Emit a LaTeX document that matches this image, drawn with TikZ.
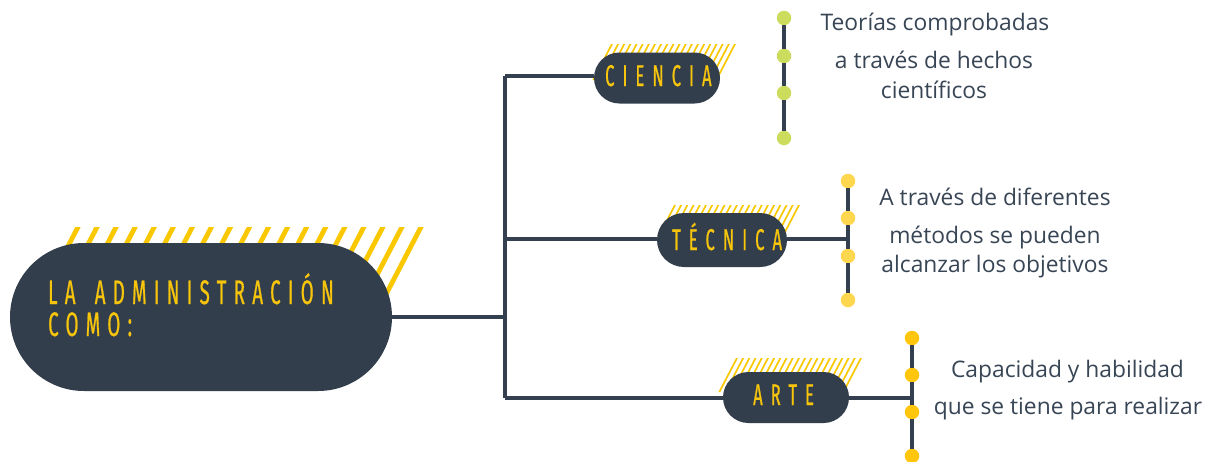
\documentclass[tikz,border=0pt]{standalone}
\usepackage{fontspec}
\usetikzlibrary{shapes.misc}
\setmainfont{Open Sans}
\newfontfamily\capsfont[FakeStretch=0.55,LetterSpace=21.5,FakeBold=0.6]{Fira Sans}
\newfontfamily\smallcapsfont[FakeStretch=0.55,LetterSpace=27,FakeBold=0.6]{Fira Sans}
\definecolor{dark}{HTML}{323E4C}
\definecolor{linec}{HTML}{34404F}
\definecolor{hatchc}{HTML}{F9C800}
\definecolor{capc}{HTML}{F7C50C}
\definecolor{bodyc}{HTML}{384555}
\definecolor{limec}{HTML}{CCDC5C}
\definecolor{lyel}{HTML}{FFD74E}
\definecolor{amber}{HTML}{FFC60B}
\newcommand{\myhatch}[6]{% x1 x2 ytop ybot step width
  \begin{scope}
    \pgfmathsetmacro\hd{0.52*(#4-#3)}
    \clip ({#1-#6},#3) -- ({#2+#6},#3) -- ({#2+#6-\hd},#4) -- ({#1-#6-\hd},#4) -- cycle;
    \pgfmathtruncatemacro\hN{round((#2-#1)/#5)}
    \foreach \i in {0,...,\hN}{
      \pgfmathsetmacro\hk{#1+\i*(#2-#1)/\hN}
      \draw[hatchc,line width=#6] ({\hk+0.52*4},{#3-4}) -- ({\hk-\hd-0.52*4},{#4+4});
    }
  \end{scope}}
\begin{document}
\begin{tikzpicture}[x=1pt,y=-1pt,
  pill/.style={rounded rectangle,fill=dark,inner sep=0pt},
  conn/.style={draw=linec,line width=3.1pt},
  dotc/.style={circle,inner sep=0pt,minimum size=14.5pt,fill=#1},
  bodytxt/.style={font=\fontsize{22.8}{26}\selectfont,text=bodyc,anchor=base,inner sep=0pt},
  captxt/.style={font=\capsfont\fontsize{34}{34}\selectfont,text=capc,inner sep=0pt},
  scaptxt/.style={font=\smallcapsfont\fontsize{30}{30}\selectfont,text=capc,inner sep=0pt}]
\useasboundingbox (0,0) rectangle (1208,461);
\fill[white] (0,0) rectangle (1208,461);

% hatches
\myhatch{78}{421}{227}{300}{19}{4.8}
\myhatch{612}{735}{44}{80}{6.2}{1.7}
\myhatch{675}{799}{205}{240}{6.2}{1.7}
\myhatch{737}{861}{358}{392}{6.2}{1.7}

% junctions
\coordinate (J) at (505,317);
\coordinate (Jc) at (505,76);
\coordinate (Jt) at (505,239);
\coordinate (Ja) at (505,398);
\coordinate (Tt) at (848,239);
\coordinate (Ta) at (912,398);

% pills
\node[pill,minimum width=382pt,minimum height=148pt] (main) at (201,317) {};
\node[pill,minimum width=126pt,minimum height=51pt] (cien) at (657,78) {};
\node[pill,minimum width=130pt,minimum height=54pt] (tec) at (722,240) {};
\node[pill,minimum width=126pt,minimum height=51pt] (arte) at (786,397.5) {};

% connectors
\draw[conn] (main.east |- J) -- (J);
\draw[conn] (Jc) -- (Ja);
\draw[conn] (Jc) -- (Jc -| cien.west);
\draw[conn] (Jt) -- (Jt -| tec.west);
\draw[conn] (Ja) -- (Ja -| arte.west);
\draw[conn] (Tt -| tec.east) -- (Tt);
\draw[conn] (Ta -| arte.east) -- (Ta);

% dot columns
\node[dotc=limec] (c1) at (784,18) {};
\node[dotc=limec] (c2) at (784,56) {};
\node[dotc=limec] (c3) at (784,93) {};
\node[dotc=limec] (c4) at (784,138) {};
\draw[conn] (c1) -- (c2); \draw[conn] (c2) -- (c3); \draw[conn] (c3) -- (c4);

\node[dotc=lyel] (d1) at (848,181) {};
\node[dotc=lyel] (d2) at (848,218) {};
\node[dotc=lyel] (d3) at (848,256) {};
\node[dotc=lyel] (d4) at (848,300) {};
\draw[conn] (d1) -- (d2); \draw[conn] (d2) -- (d3); \draw[conn] (d3) -- (d4);

\node[dotc=amber] (e1) at (912,338) {};
\node[dotc=amber] (e2) at (912,375) {};
\node[dotc=amber] (e3) at (912,412) {};
\node[dotc=amber] (e4) at (912,456) {};
\draw[conn] (e1) -- (e2); \draw[conn] (e2) -- (e3); \draw[conn] (e3) -- (e4);

% pill texts
\node[captxt,anchor=base west] (m1) at (48,304) {LA\hspace{7pt} ADMINISTRACIÓN};
\node[captxt,anchor=base west] (m2) at (48,336) {COMO:};
\node[scaptxt,anchor=base west] (cl) at (605,86) {CIENCIA};
\node[scaptxt,anchor=base west] (tl) at (672,250) {TÉCNICA};
\node[scaptxt,anchor=base west] (al) at (753,405) {ARTE};

% body texts
\node[bodytxt] (a1) at (935,30) {Teorías comprobadas};
\node[bodytxt] (a2) at (934,68) {a través de hechos};
\node[bodytxt] (a3) at (934,98) {científicos};
\node[bodytxt] (b1) at (995,205) {A través de diferentes};
\node[bodytxt] (b2) at (995,243) {métodos se pueden};
\node[bodytxt] (b3) at (995,272) {alcanzar los objetivos};
\node[bodytxt] (f1) at (1067.5,377) {Capacidad y habilidad};
\node[bodytxt] (f2) at (1068,414) {que se tiene para realizar};
\end{tikzpicture}
\end{document}
